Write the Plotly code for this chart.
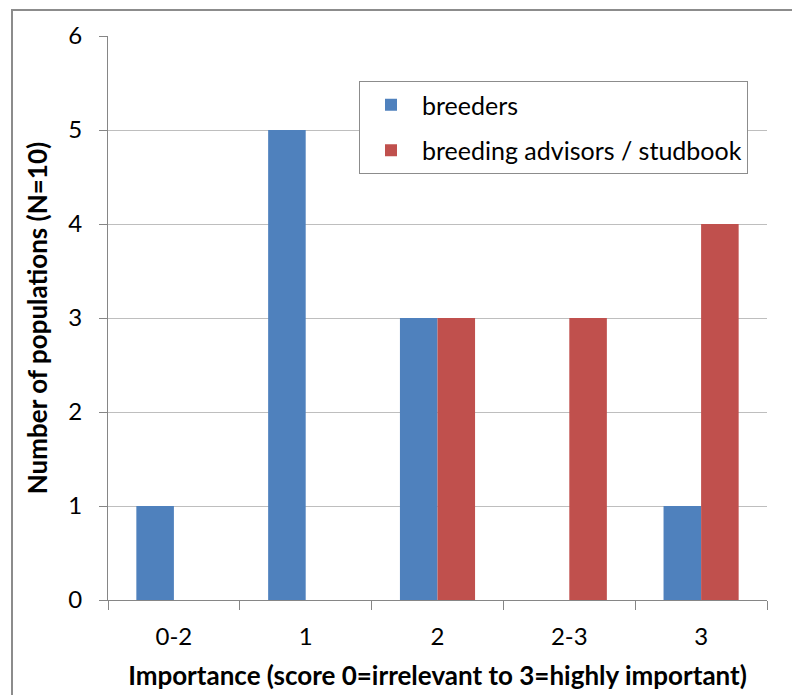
import plotly.graph_objects as go

categories = ["0-2", "1", "2", "2-3", "3"]
breeders = [1, 5, 3, 0, 1]
advisors = [0, 0, 3, 3, 4]
series_names = ["breeders", "breeding advisors / studbook"]

FONT = "Lato, Carlito, Calibri, sans-serif"

fig = go.Figure()
fig.add_trace(go.Bar(x=categories, y=breeders, name=series_names[0],
                     marker=dict(color="#4F81BD", line=dict(width=0)), legendgroup="a"))
fig.add_trace(go.Bar(x=categories, y=advisors, name=series_names[1],
                     marker=dict(color="#C0504D", line=dict(width=0)), legendgroup="b"))

W, H = 792, 695
L, R, T, B = 108, 25, 36, 95
pw, ph = W - L - R, H - T - B

def px_x(px):
    return (px - L) / pw

def px_y(py):
    return 1 - (py - T) / ph

fig.update_layout(
    width=W, height=H,
    margin=dict(l=L, r=R, t=T, b=B, autoexpand=False),
    paper_bgcolor="white", plot_bgcolor="white",
    font=dict(family=FONT, size=24, color="#000000"),
    barmode="group", bargap=0.43, bargroupgap=0,
    showlegend=True,
    legend=dict(x=px_x(359), y=px_y(81), xanchor="left", yanchor="top",
                bordercolor="#8C8C8C", borderwidth=1, bgcolor="white",
                font=dict(size=25, family=FONT), traceorder="grouped",
                tracegroupgap=10, itemwidth=52),
    xaxis=dict(
        type="category", showline=True, linecolor="#868686", linewidth=1,
        ticks="outside", tickson="boundaries", ticklen=9, tickcolor="#868686",
        showgrid=False, ticklabelstandoff=15, tickfont=dict(size=24),
        title=dict(text="<b>Importance (score 0=irrelevant to 3=highly important)</b>",
                   font=dict(size=26), standoff=18),
    ),
    yaxis=dict(
        range=[0, 6], dtick=1, showline=True, linecolor="#868686", linewidth=1,
        ticks="outside", ticklen=8, tickcolor="#868686", tickfont=dict(size=24),
        showgrid=True, gridcolor="#BEBEBE", gridwidth=1, zeroline=False,
        ticklabelstandoff=12,
        title=dict(text="<b>Number of populations (N=10)</b>", font=dict(size=26), standoff=13),
    ),
    shapes=[dict(type="rect", xref="paper", yref="paper",
                 x0=px_x(12), x1=px_x(820), y0=px_y(720), y1=px_y(10),
                 line=dict(color="#8C8C8C", width=2), fillcolor="rgba(0,0,0,0)", layer="below")],
)

fig.write_html("out.html", config={"displayModeBar": False},
               post_script="document.body.style.margin='0';document.body.style.padding='0';")
